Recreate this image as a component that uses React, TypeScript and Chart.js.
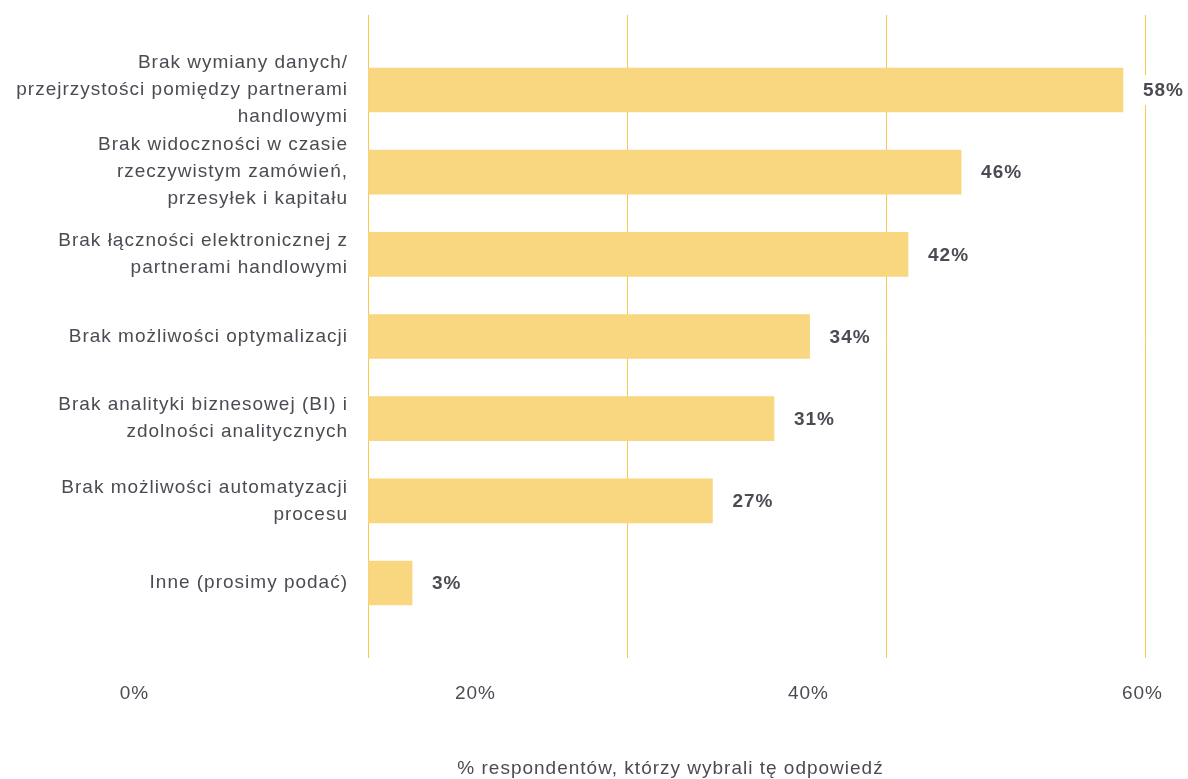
import React, { useEffect, useRef } from "react";
import { Chart, registerables } from "chart.js";

Chart.register(...registerables);

const categories: string[][] = [
  ["Brak wymiany danych/", "przejrzystości pomiędzy partnerami", "handlowymi"],
  ["Brak widoczności w czasie", "rzeczywistym zamówień,", "przesyłek i kapitału"],
  ["Brak łączności elektronicznej z", "partnerami handlowymi"],
  ["Brak możliwości optymalizacji"],
  ["Brak analityki biznesowej (BI) i", "zdolności analitycznych"],
  ["Brak możliwości automatyzacji", "procesu"],
  ["Inne (prosimy podać)"],
];
const values: number[] = [58.3, 45.8, 41.7, 34.1, 31.35, 26.6, 3.4];
const valueLabels: string[] = ["58%", "46%", "42%", "34%", "31%", "27%", "3%"];
const xTickValues: number[] = [0, 20, 40, 60];
const xTickLabels: string[] = ["0%", "20%", "40%", "60%"];
const axisTitle = "% respondentów, którzy wybrali tę odpowiedź";

const TEXT = "#4b4b53";
const BAR = "#F9D680";
const GRID = "#F4C94E";
const FONT = "'Liberation Sans', Arial, Helvetica, sans-serif";
const SPACING = "1px";
const SIZE = 19;

export default function App() {
  const ref = useRef<HTMLCanvasElement | null>(null);

  useEffect(() => {
    if (!ref.current) return;

    const overlay = {
      id: "overlay",
      beforeDraw(chart: any) {
        chart.ctx.letterSpacing = SPACING;
      },
      afterDatasetsDraw(chart: any) {
        const ctx = chart.ctx;
        const meta = chart.getDatasetMeta(0);
        ctx.save();
        ctx.letterSpacing = SPACING;
        ctx.font = `bold ${SIZE}px ${FONT}`;
        ctx.textBaseline = "middle";
        ctx.textAlign = "left";
        meta.data.forEach((el: any, i: number) => {
          const txt = valueLabels[i];
          const x = el.x + 20;
          const y = el.y;
          const w = ctx.measureText(txt).width;
          ctx.fillStyle = "#ffffff";
          ctx.fillRect(x - 3, y - 15, w + 4, 30);
          ctx.fillStyle = TEXT;
          ctx.fillText(txt, x, y + 1);
        });
        ctx.restore();
      },
      afterDraw(chart: any) {
        const ctx = chart.ctx;
        ctx.save();
        ctx.letterSpacing = SPACING;
        ctx.font = `${SIZE}px ${FONT}`;
        ctx.fillStyle = TEXT;
        ctx.textAlign = "center";
        ctx.textBaseline = "middle";
        const xs = [126.5, 467.5, 800.5, 1134.5];
        xTickLabels.forEach((t, i) => {
          ctx.fillText(t, xs[i], 686);
        });
        ctx.fillText(axisTitle, 662.5, 761);
        ctx.restore();
      },
    };

    const chart = new Chart(ref.current, {
      type: "bar",
      data: {
        datasets: [
          {
            data: values.map((v, i) => ({ x: v, y: i })),
            backgroundColor: BAR,
            borderWidth: 0,
            barThickness: 44,
          },
        ],
      },
      options: {
        indexAxis: "y",
        responsive: true,
        maintainAspectRatio: false,
        animation: false,
        layout: { padding: { top: 7, right: 43, left: 0, bottom: 0 } },
        plugins: {
          legend: { display: false },
          tooltip: { enabled: false },
        },
        scales: {
          x: {
            type: "linear",
            min: 0,
            max: 60,
            offset: false,
            afterBuildTicks: (scale: any) => {
              scale.ticks = xTickValues.map((v) => ({ value: v }));
            },
            afterFit: (scale: any) => {
              scale.height = 121;
              scale.paddingLeft = 0;
              scale.paddingRight = 0;
            },
            ticks: { display: false },
            grid: {
              color: GRID,
              lineWidth: 1,
              drawTicks: false,
            },
            border: { display: false },
          },
          y: {
            type: "linear",
            reverse: true,
            offset: false,
            min: -0.913,
            max: 6.913,
            afterBuildTicks: (scale: any) => {
              scale.ticks = categories.map((_, i) => ({ value: i }));
            },
            afterFit: (scale: any) => {
              scale.width = 360;
              scale.paddingTop = 0;
              scale.paddingBottom = 0;
            },
            ticks: {
              padding: 20,
              color: TEXT,
              font: { size: SIZE, family: FONT, lineHeight: 27 / SIZE },
              callback: (v: any) => categories[Number(v)] ?? "",
            },
            grid: { display: false, drawTicks: false },
            border: { display: false },
          },
        },
      },
      plugins: [overlay],
    } as any);

    return () => chart.destroy();
  }, []);

  return (
    <div style={{ position: "absolute", left: 8, top: 8, width: 1180, height: 771 }}>
      <canvas ref={ref} />
    </div>
  );
}
